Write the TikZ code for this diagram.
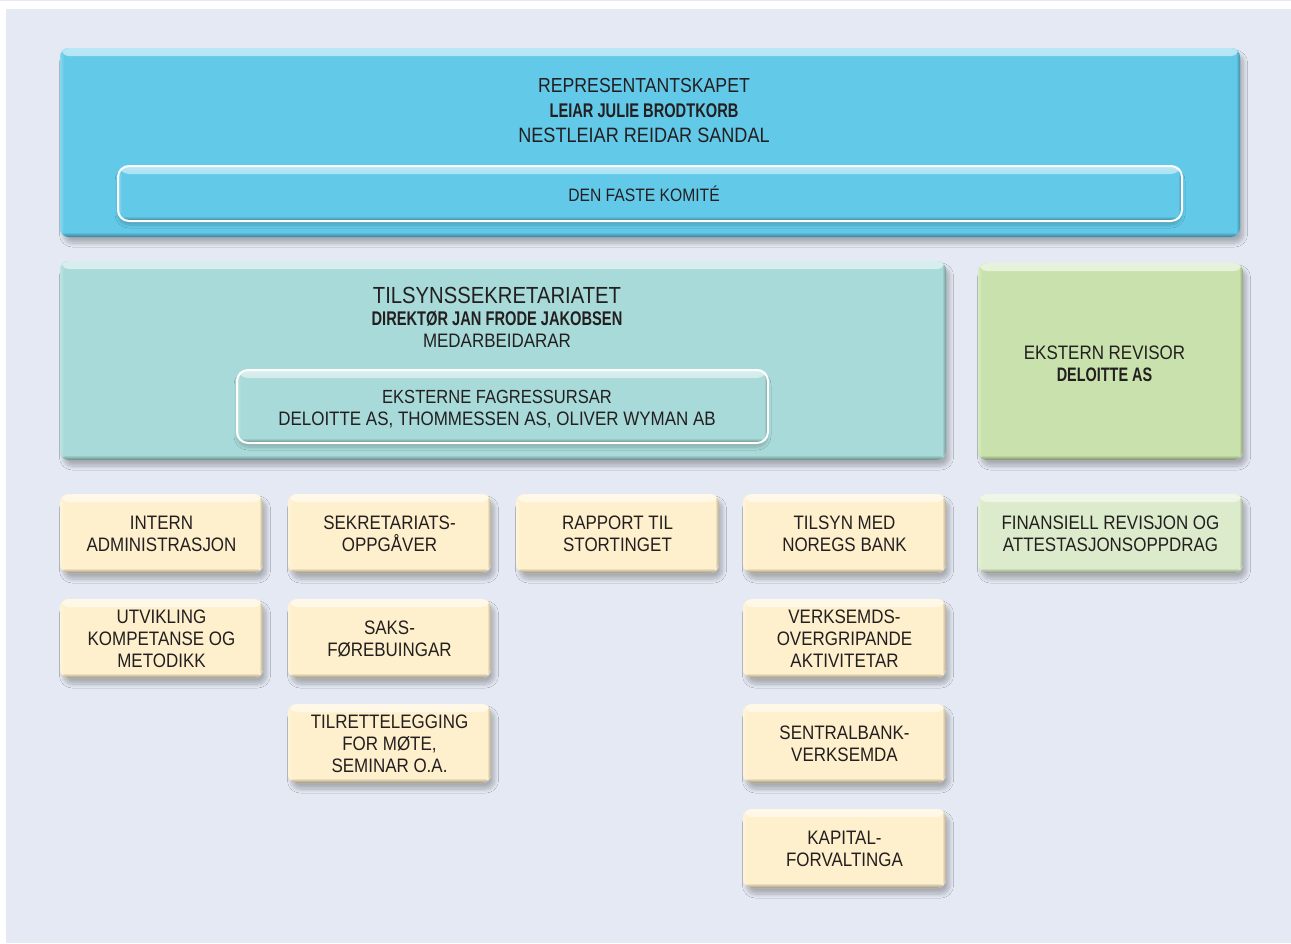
\documentclass[tikz,border=0pt]{standalone}
\usepackage{fontspec}
\setmainfont{Liberation Sans}[UprightFeatures={FakeStretch=0.87}, BoldFeatures={FakeStretch=0.74}]
\usetikzlibrary{shadows.blur}
\definecolor{panel}{HTML}{E5E9F3}
\definecolor{ink}{HTML}{231F20}
\definecolor{bluebox}{HTML}{62C9E9}
\definecolor{tealbox}{HTML}{A7DAD8}
\definecolor{greenbox}{HTML}{C9E2AD}
\definecolor{lgreenbox}{HTML}{DCEBCB}
\definecolor{yellowbox}{HTML}{FEF0CD}
\tikzset{
  bevel/.style={path picture={
    \shade[top color=#1!45!white, bottom color=#1] (path picture bounding box.north west) rectangle ([yshift=-8pt]path picture bounding box.north east);
    \shade[left color=#1!75!white, right color=#1] (path picture bounding box.north west) rectangle ([xshift=4pt]path picture bounding box.south west);
    \shade[left color=#1, right color=#1!70!black] ([xshift=-4pt]path picture bounding box.south east) rectangle (path picture bounding box.north east);
    \shade[top color=#1, bottom color=#1!62!black] ([yshift=5pt]path picture bounding box.south west) rectangle (path picture bounding box.south east);
  }},
  basebox/.style={fill=#1, rounded corners=9pt, inner sep=0pt, bevel=#1, text=ink, align=center,
    font=\fontsize{19.5}{22}\selectfont},
  box/.style={basebox=#1, blur shadow={shadow xshift=3.5pt, shadow yshift=-6pt, shadow blur radius=4pt, shadow blur steps=12, shadow opacity=26}},
  innerbox/.style={basebox=#1, draw=white, line width=2pt, rounded corners=11pt,
    blur shadow={shadow xshift=0pt, shadow yshift=-4pt, shadow blur radius=3pt, shadow blur steps=8, shadow opacity=20}},
  ybox/.style={box=yellowbox, minimum width=203pt, minimum height=79pt},
  txt/.style={text=ink, inner sep=0pt, anchor=base, font=\fontsize{19.5}{22}\selectfont},
}
\begin{document}
\begin{tikzpicture}[x=1pt,y=-1pt]
\useasboundingbox (0,0) rectangle (1291,943);
\fill[white] (0,0) rectangle (1291,943);
\fill[panel] (0,0) rectangle (1291,1);
\fill[panel] (6,9) rectangle (1291,943);

% top
\node[box=bluebox, minimum width=1180pt, minimum height=189pt] (rep) at (650,142.5) {};
\node[txt, font=\fontsize{20.3}{22}\selectfont] (rep1) at (644,92) {REPRESENTANTSKAPET};
\node[txt, font=\fontsize{19.8}{22}\bfseries] (rep2) at (644,117) {LEIAR JULIE BRODTKORB};
\node[txt, font=\fontsize{20.8}{22}\selectfont] (rep3) at (644,142) {NESTLEIAR REIDAR SANDAL};
\node[innerbox=bluebox, minimum width=1064pt, minimum height=55pt] (kom) at (650,193.5) {};
\node[txt, font=\fontsize{18}{20}\selectfont] (komt) at (644,201) {DEN FASTE KOMITÉ};

% secretariat
\node[box=tealbox, minimum width=886pt, minimum height=199pt] (sek) at (503,360.5) {};
\node[txt, font=\fontsize{23.3}{26}\selectfont] (sek1) at (497,303) {TILSYNSSEKRETARIATET};
\node[txt, font=\fontsize{19.8}{22}\bfseries] (sek2) at (497,325) {DIREKTØR JAN FRODE JAKOBSEN};
\node[txt] (sek3) at (497,347) {MEDARBEIDARAR};
\node[innerbox=tealbox, minimum width=531pt, minimum height=73pt] (eks) at (502.5,406.5) {};
\node[txt, font=\fontsize{19}{22}\selectfont] (eks1) at (497,403) {EKSTERNE FAGRESSURSAR};
\node[txt] (eks2) at (497,425.5) {DELOITTE AS, THOMMESSEN AS, OLIVER WYMAN AB};

% auditor
\node[box=greenbox, minimum width=265pt, minimum height=197pt] (rev) at (1110.5,361.5) {};
\node[txt] (rev1) at (1104.5,359) {EKSTERN REVISOR};
\node[txt, font=\fontsize{19.5}{22}\bfseries] (rev2) at (1104.5,381) {DELOITTE AS};
\node[box=lgreenbox, minimum width=265pt, minimum height=79pt] (fin) at (1110.5,533.5)
  {FINANSIELL REVISJON OG\\ATTESTASJONSOPPDRAG};

% tasks
\node[ybox] (a1) at (161.5,533.5) {INTERN\\ADMINISTRASJON};
\node[ybox] (a2) at (161.5,638.5) {UTVIKLING\\KOMPETANSE OG\\METODIKK};
\node[ybox] (b1) at (389.5,533.5) {SEKRETARIATS-\\OPPGÅVER};
\node[ybox] (b2) at (389.5,638.5) {SAKS-\\FØREBUINGAR};
\node[ybox] (b3) at (389.5,743.5) {TILRETTELEGGING\\FOR MØTE,\\SEMINAR O.A.};
\node[ybox] (c1) at (617.5,533.5) {RAPPORT TIL\\STORTINGET};
\node[ybox] (d1) at (844.5,533.5) {TILSYN MED\\NOREGS BANK};
\node[ybox] (d2) at (844.5,638.5) {VERKSEMDS-\\OVERGRIPANDE\\AKTIVITETAR};
\node[ybox] (d3) at (844.5,743.5) {SENTRALBANK-\\VERKSEMDA};
\node[ybox] (d4) at (844.5,848.5) {KAPITAL-\\FORVALTINGA};
\end{tikzpicture}
\end{document}
